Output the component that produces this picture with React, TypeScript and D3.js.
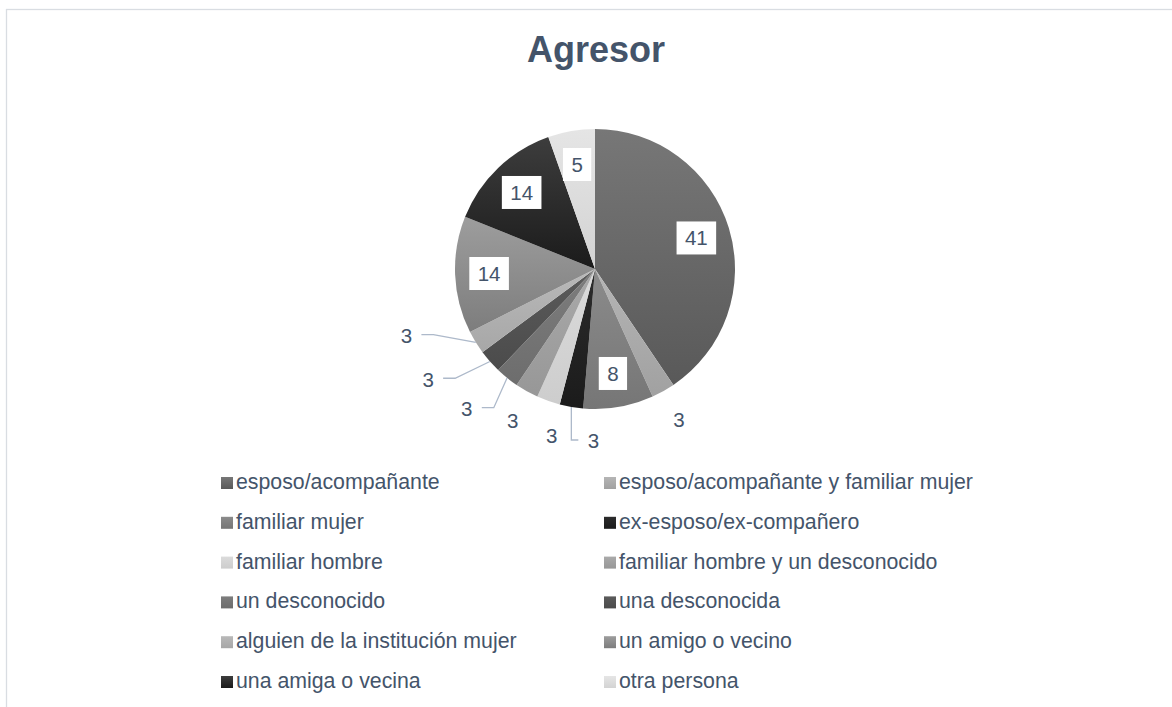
import React from "react";
import * as d3 from "d3";

const title = "Agresor";
const categories = [
  "esposo/acompañante",
  "esposo/acompañante y familiar mujer",
  "familiar mujer",
  "ex-esposo/ex-compañero",
  "familiar hombre",
  "familiar hombre y un desconocido",
  "un desconocido",
  "una desconocida",
  "alguien de la institución mujer",
  "un amigo o vecino",
  "una amiga o vecina",
  "otra persona",
];
// percentages (shown rounded in labels)
const values = [40.5, 2.7, 8.1, 2.7, 2.7, 2.7, 2.7, 2.7, 2.7, 13.5, 13.5, 5.4];
const colorsTop = [
  "#777777", "#b5b5b5", "#8b8b8b", "#2c2c2c", "#dbdbdb", "#aaaaaa",
  "#7d7d7d", "#5b5b5b", "#b9b9b9", "#9d9d9d", "#3d3d3d", "#e5e5e5",
];
const colorsBottom = [
  "#595959", "#a1a1a1", "#767676", "#1b1b1b", "#cdcdcd", "#979797",
  "#6d6d6d", "#4b4b4b", "#a7a7a7", "#7d7d7d", "#1b1b1b", "#d3d3d3",
];

const W = 1172;
const H = 707;
const cx = 595;
const cy = 269;
const R = 140;
const FONT = "'Liberation Sans', Arial, sans-serif";
const TEXT = "#44546a";
const LEADER = "#adb9ca";

type Lab = {
  i: number;
  mid: number; // degrees
  ang: number;
  r: number;
  inside: boolean;
};

export default function App() {
  const pie = d3.pie<number>().sort(null).value((d) => d);
  const arcs = pie(values);
  const arc = d3.arc<d3.PieArcDatum<number>>().innerRadius(0).outerRadius(R);

  const labs: Lab[] = arcs.map((a, i) => {
    const mid = (((a.startAngle + a.endAngle) / 2) * 180) / Math.PI;
    const inside = values[i] >= 5;
    return { i, mid, ang: mid, r: inside ? 106 : 172, inside };
  });

  // spread groups of consecutive outside labels
  const gap = 14;
  let k = 0;
  while (k < labs.length) {
    if (labs[k].inside) { k++; continue; }
    let j = k;
    while (j + 1 < labs.length && !labs[j + 1].inside && labs[j + 1].mid - labs[j].mid < gap) j++;
    const n = j - k + 1;
    if (n > 1) {
      const mean = (labs[k].mid + labs[j].mid) / 2 + 1.5;
      for (let t = 0; t < n; t++) {
        const l = labs[k + t];
        l.ang = mean + (t - (n - 1) / 2) * gap;
        l.r = 172 + 28 * Math.max(0, Math.min(1, (l.ang - 210) / 20));
      }
    }
    k = j + 1;
  }

  const polar = (deg: number, r: number): [number, number] => {
    const t = (deg * Math.PI) / 180;
    return [cx + r * Math.sin(t), cy - r * Math.cos(t)];
  };

  const legendCols = [221, 604];
  const legendY0 = 489;
  const legendDy = 39.8;

  return (
    <svg
      width={W}
      height={H}
      style={{ position: "absolute", left: 0, top: 0, background: "#fff" }}
      fontFamily={FONT}
    >
      <defs>
        {categories.map((c, i) => (
          <linearGradient key={c} id={`g${i}`} x1="0" y1="0" x2="0" y2="1">
            <stop offset="0" stopColor={colorsTop[i]} />
            <stop offset="1" stopColor={colorsBottom[i]} />
          </linearGradient>
        ))}
      </defs>
      <rect x={6.5} y={9.5} width={1200} height={760} fill="#fff" stroke="#d9dde2" strokeWidth={1.3} />
      <text x={596} y={62} textAnchor="middle" fontSize={36} fontWeight="bold" fill={TEXT}>
        {title}
      </text>
      <g transform={`translate(${cx},${cy})`}>
        {arcs.map((a, i) => (
          <path key={i} d={arc(a) || ""} fill={`url(#g${i})`} />
        ))}
      </g>
      {labs.map((l) => {
        const label = String(Math.round(values[l.i]));
        const [x, y] = polar(l.ang, l.r);
        if (l.inside) {
          const tw = label.length * 11.3;
          const bw = tw + 17;
          return (
            <g key={l.i}>
              <rect x={x - bw / 2} y={y - 16.5} width={bw} height={33} fill="#fff" />
              <text x={x} y={y + 7.5} textAnchor="middle" fontSize={20.5} fill={TEXT}>
                {label}
              </text>
            </g>
          );
        }
        const disp = Math.abs(l.ang - l.mid);
        const needLeader = disp > 8 || l.r > 180;
        let leader = null;
        if (needLeader) {
          const [sx, sy] = polar(l.mid, R);
          const dir = sx < x ? -1 : 1;
          const ex = x + dir * 15;
          let elx = ex + dir * 12;
          if (dir === -1) elx = Math.max(elx, sx);
          else elx = Math.min(elx, sx);
          const ey = y - 1;
          leader = (
            <polyline
              points={`${sx},${sy} ${elx},${ey} ${ex},${ey}`}
              fill="none"
              stroke={LEADER}
              strokeWidth={1.3}
            />
          );
        }
        return (
          <g key={l.i}>
            {leader}
            <text x={x} y={y + 7.5} textAnchor="middle" fontSize={20.5} fill={TEXT}>
              {label}
            </text>
          </g>
        );
      })}
      {categories.map((c, i) => {
        const col = i % 2;
        const row = Math.floor(i / 2);
        const by = legendY0 + row * legendDy;
        const mx = legendCols[col];
        return (
          <g key={c}>
            <rect x={mx} y={by - 12} width={12} height={12} fill={`url(#g${i})`} />
            <text x={mx + 15} y={by} fontSize={21.3} fill={TEXT}>
              {c}
            </text>
          </g>
        );
      })}
    </svg>
  );
}
